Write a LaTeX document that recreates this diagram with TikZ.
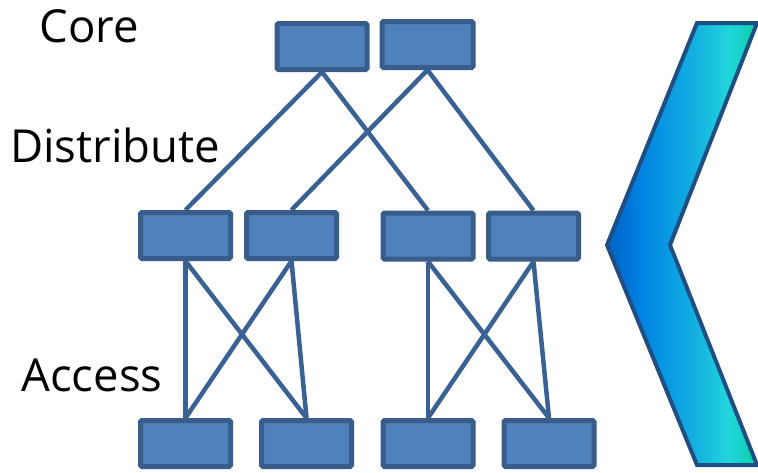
\documentclass[tikz,border=0pt]{standalone}
\usepackage{fontspec}
\setmainfont{Open Sans}
\pgfdeclarelayer{paper}
\pgfdeclarelayer{bg}
\pgfsetlayers{paper,bg,main}
\definecolor{boxfill}{HTML}{4F81BD}
\definecolor{boxline}{HTML}{385D8A}
\definecolor{linkcol}{HTML}{3A6193}
\definecolor{chevline}{HTML}{1F4E82}
% horizontal blue-to-teal shading for the chevron (central 50bp maps onto the path)
\pgfdeclarehorizontalshading{chevshade}{100bp}{%
  rgb(0bp)=(0,0.38,0.78);
  rgb(25bp)=(0,0.38,0.78);
  rgb(37bp)=(0,0.52,0.89);
  rgb(55bp)=(0.08,0.70,0.88);
  rgb(65bp)=(0.13,0.83,0.86);
  rgb(69bp)=(0.10,0.83,0.80);
  rgb(75bp)=(0.02,0.81,0.62);
  rgb(100bp)=(0.02,0.81,0.62)}
\tikzset{
  switch/.style={draw=boxline, fill=boxfill, line width=5pt, rounded corners=1.5pt,
    minimum width=90pt, minimum height=46pt, inner sep=0pt},
  link/.style={draw=linkcol, line width=4.5pt},
  layerlabel/.style={font=\fontsize{45.5}{46}\selectfont, anchor=base, inner sep=0pt},
}
\begin{document}
\begin{tikzpicture}[x=1pt, y=-1pt]
\useasboundingbox (0,0) rectangle (758,472);
\begin{pgfonlayer}{paper}
  \fill[white] (0,0) rectangle (758,472);
\end{pgfonlayer}

% layer labels
\node[layerlabel] (lcore) at (89,42) {Core};
\node[layerlabel] (ldist) at (115,162) {Distribute};
\node[layerlabel] (lacc) at (92,391) {Access};

% core switches
\node[switch] (c1) at (322,46.5) {};
\node[switch, minimum width=91pt] (c2) at (427.5,44.5) {};

% distribution switches
\node[switch] (d1) at (185.5,235.5) {};
\node[switch] (d2) at (291.5,235.5) {};
\node[switch] (d3) at (428,236) {};
\node[switch] (d4) at (533.5,236) {};

% access switches
\node[switch] (a1) at (185.5,443.5) {};
\node[switch] (a2) at (306.5,443.5) {};
\node[switch] (a3) at (428,443.5) {};
\node[switch] (a4) at (549,443.5) {};

% links between layers, drawn behind the switches
\begin{pgfonlayer}{bg}
  \draw[link] (c1.south) -- (d1.north);
  \draw[link] (c1.south) -- (d3.north);
  \draw[link] (c2.south) -- (d2.north);
  \draw[link] (c2.south) -- (d4.north);
  \draw[link] (d1.south) -- (a1.north);
  \draw[link] (d1.south) -- (a2.north);
  \draw[link] (d2.south) -- (a1.north);
  \draw[link] (d2.south) -- (a2.north);
  \draw[link] (d3.south) -- (a3.north);
  \draw[link] (d3.south) -- (a4.north);
  \draw[link] (d4.south) -- (a3.north);
  \draw[link] (d4.south) -- (a4.north);
\end{pgfonlayer}

% chevron pointing left
\coordinate (k1) at (697,23);
\coordinate (k2) at (757,23);
\coordinate (k3) at (670,245);
\coordinate (k4) at (757,465);
\coordinate (k5) at (697,465);
\coordinate (k6) at (607,245);
\path[shading=chevshade] (k1) -- (k2) -- (k3) -- (k4) -- (k5) -- (k6) -- cycle;
\draw[chevline, line width=4pt, line join=miter] (k1) -- (k2) -- (k3) -- (k4) -- (k5) -- (k6) -- cycle;
\end{tikzpicture}
\end{document}
